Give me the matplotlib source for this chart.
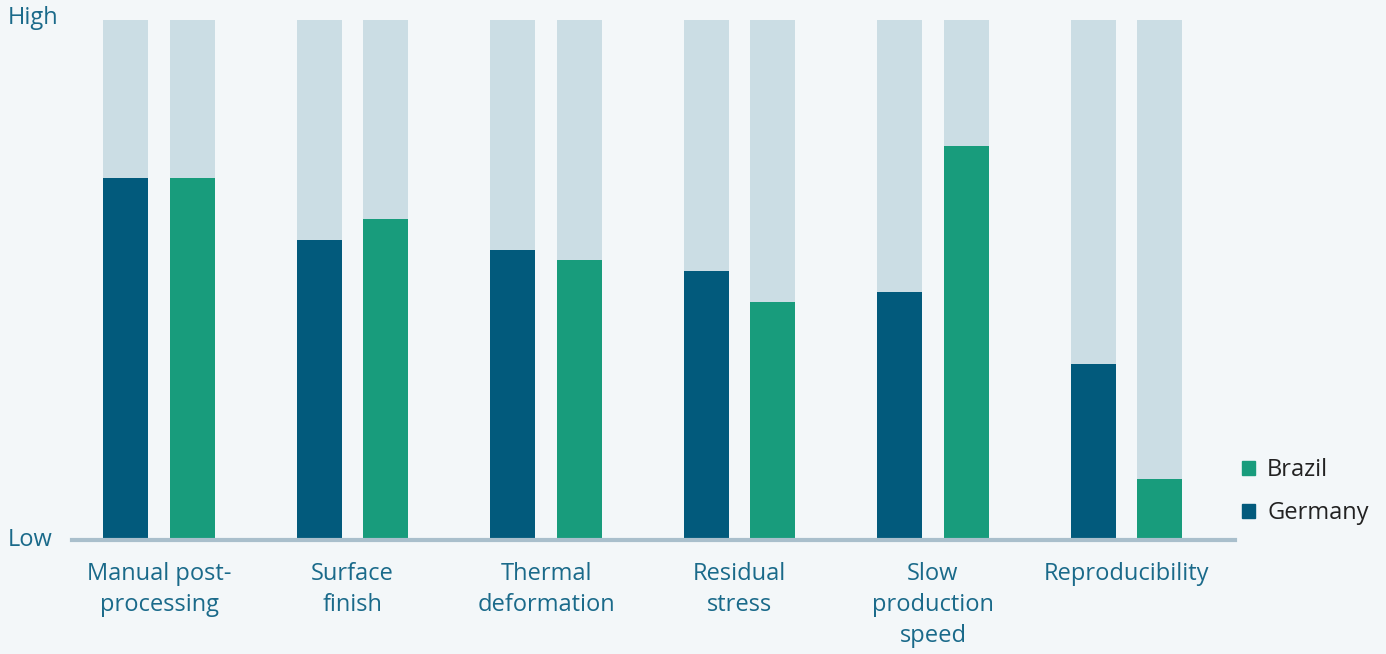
import numpy as np
import matplotlib.pyplot as plt
from matplotlib.patches import Patch

# Данные (0 = Low, 1 = High)
categories = ["Manual post-\nprocessing", "Surface\nfinish", "Thermal\ndeformation",
              "Residual\nstress", "Slow\nproduction\nspeed", "Reproducibility"]
germany = [0.696, 0.577, 0.558, 0.517, 0.477, 0.338]
brazil = [0.696, 0.617, 0.538, 0.458, 0.758, 0.117]

bg = "#f3f7f9"
c_germany = "#025a7c"
c_brazil = "#189c7c"
c_back = "#cbdde4"
c_text = "#1a6a8a"

plt.rcParams['font.family'] = ['Open Sans', 'DejaVu Sans']

W, H = 1386, 654
fig = plt.figure(figsize=(W / 100, H / 100), dpi=100, facecolor=bg)
ax = fig.add_axes([72 / W, (H - 540) / H, (1235 - 72) / W, 520 / H])
ax.set_facecolor(bg)

x = np.arange(len(categories))
w = 0.233
off = 0.172

# фоновые столбцы до "High"
ax.bar(x - off, 1, w, color=c_back, zorder=1)
ax.bar(x + off, 1, w, color=c_back, zorder=1)
ax.bar(x - off, germany, w, color=c_germany, zorder=2)
ax.bar(x + off, brazil, w, color=c_brazil, zorder=2)

ax.set_xlim(-0.451, 5.562)
ax.set_ylim(0, 1)
for s in ["top", "right", "left"]:
    ax.spines[s].set_visible(False)
ax.spines["bottom"].set_color("#a9bfcc")
ax.spines["bottom"].set_linewidth(3)
ax.spines["bottom"].set_zorder(3)
ax.set_yticks([])
ax.set_xticks(x)
ax.set_xticklabels(categories, fontsize=17, color=c_text, linespacing=1.38, va="top")
ax.tick_params(axis="x", length=0, pad=16)

fig.text(8 / W, 1 - 18 / H, "High", fontsize=17, color=c_text, va="center", ha="left")
fig.text(8 / W, 1 - 540 / H, "Low", fontsize=17, color=c_text, va="center", ha="left")

handles = [Patch(color=c_brazil, label="Brazil"), Patch(color=c_germany, label="Germany")]
fig.legend(handles=handles, loc="upper left", bbox_to_anchor=(1221 / W, 1 - 437 / H),
           frameon=False, fontsize=17, handlelength=0.55, handleheight=0.55,
           handletextpad=0.5, labelspacing=0.8, labelcolor="#222222")

plt.savefig("out.png", dpi=100, facecolor=bg)
